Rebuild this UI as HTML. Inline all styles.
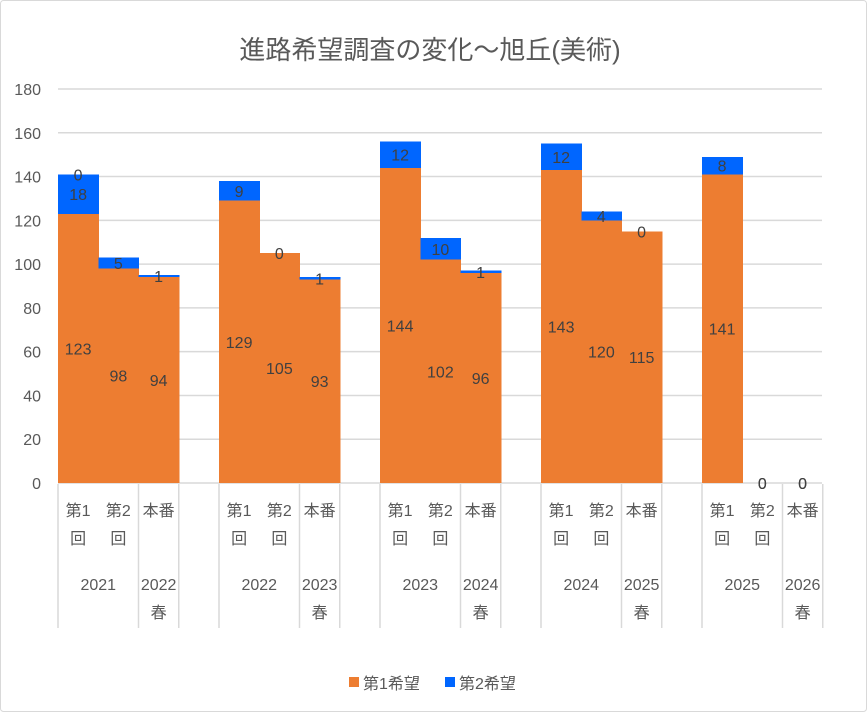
<!DOCTYPE html>
<html><head><meta charset="utf-8"><style>
body{margin:0;background:#fff;}
#wrap{position:relative;width:868px;height:713px;overflow:hidden;}
text{font-family:"Liberation Sans","Noto Sans CJK JP",sans-serif;}
</style></head><body>
<div id="wrap">
<svg id="chart" width="868" height="713">
<rect x="0.5" y="0.5" width="866" height="711" rx="3" fill="#fff" stroke="#d9d9d9"/>
<text x="430" y="59" font-size="26" fill="#595959" text-anchor="middle">進路希望調査の変化～旭丘(美術)</text>
<g id="grid"></g><g id="bars" shape-rendering="crispEdges"></g><g id="labels"></g><g id="axis"></g>
<g>
<rect x="349" y="677" width="10" height="10" fill="#ed7d31"/>
<text x="363" y="689" font-size="16" fill="#595959">第1希望</text>
<rect x="445" y="677" width="10" height="10" fill="#0066ff"/>
<text x="459" y="689" font-size="16" fill="#595959">第2希望</text>
</g>
</svg>
</div>
<script>
const slots = [0,1,2,4,5,6,8,9,10,12,13,14,16,17,18];
const subLabels = ["第1|回","第2|回","本番","第1|回","第2|回","本番","第1|回","第2|回","本番","第1|回","第2|回","本番","第1|回","第2|回","本番"];
const groupLabels = ["2021","2022","2023","2024","2025"];
const honbanLabels = ["2022|春","2023|春","2024|春","2025|春","2026|春"];
const first = [123,98,94,129,105,93,144,102,96,143,120,115,141,0,0];
const second = [18,5,1,9,0,1,12,10,1,12,4,0,8,0,0];
const third = [0,null,null,null,null,null,null,null,null,null,null,null,null,null,null];
const yTicks = [0,20,40,60,80,100,120,140,160,180];

const NS="http://www.w3.org/2000/svg";
const x0=58, slotW=40.25, yBase=483, yMax=180, plotH=394;
const xs=i=>x0+slots[i]*slotW;
const y=v=>yBase-v/yMax*plotH;
function mk(tag,attrs,parent){const e=document.createElementNS(NS,tag);for(const k in attrs)e.setAttribute(k,attrs[k]);parent.appendChild(e);return e;}
const grid=document.getElementById('grid'),bars=document.getElementById('bars'),labels=document.getElementById('labels'),axis=document.getElementById('axis');
yTicks.forEach(t=>{
  const l=mk('line',{x1:x0,x2:822,y1:y(t),y2:y(t),stroke:'#d9d9d9','stroke-width':1.5},grid);
  
  
  const tx=mk('text',{x:41,y:y(t)+6,'font-size':16,fill:'#595959','text-anchor':'end'},axis);
  tx.textContent=t;
  
  
});
first.forEach((v,i)=>{
  const x=xs(i);
  const r1=mk('rect',{x:x,y:y(v),width:slotW+0.6,height:y(0)-y(v),fill:'#ed7d31'},bars);
  
  
  const s=second[i];
  const r2=mk('rect',{x:x,y:y(v+s),width:slotW+0.6,height:y(v)-y(v+s),fill:'#0066ff'},bars);
  
  
  const cx=x+slotW/2;
  const t1=mk('text',{x:cx,y:y(v/2)+6,'font-size':16,fill:'#404040','text-anchor':'middle'},labels);
  t1.textContent=v;
  
  
  const t2=mk('text',{x:cx,y:y(v+s/2)+6,'font-size':16,fill:'#404040','text-anchor':'middle'},labels);
  t2.textContent=s;
  
  
  if(third[i]!==null){
    const t3=mk('text',{x:cx,y:y(v+s)+6,'font-size':16,fill:'#404040','text-anchor':'middle'},labels);
    t3.textContent=third[i];
    
    
  }
  const parts=subLabels[i].split('|');
  parts.forEach((p,j)=>{
    const tt=mk('text',{x:cx,y:516+j*28,'font-size':16,fill:'#595959','text-anchor':'middle'},axis);
    tt.textContent=p;
    
    
  });
});
groupLabels.forEach((g,k)=>{
  const gx=x0+k*4*slotW;
  const t=mk('text',{x:gx+slotW,y:590,'font-size':16,fill:'#595959','text-anchor':'middle'},axis);
  t.textContent=g;
  
  
  const hp=honbanLabels[k].split('|');
  hp.forEach((p,j)=>{
    const tt=mk('text',{x:gx+2.5*slotW,y:590+j*28,'font-size':16,fill:'#595959','text-anchor':'middle'},axis);
    tt.textContent=p;
    
    
  });
  [0,2,3].forEach(o=>{
    const lx=gx+o*slotW;
    const ln=mk('line',{x1:lx,x2:lx,y1:484,y2:628,stroke:'#d9d9d9','stroke-width':1.5},axis);
    
    
  });
});
</script>
</body></html>
